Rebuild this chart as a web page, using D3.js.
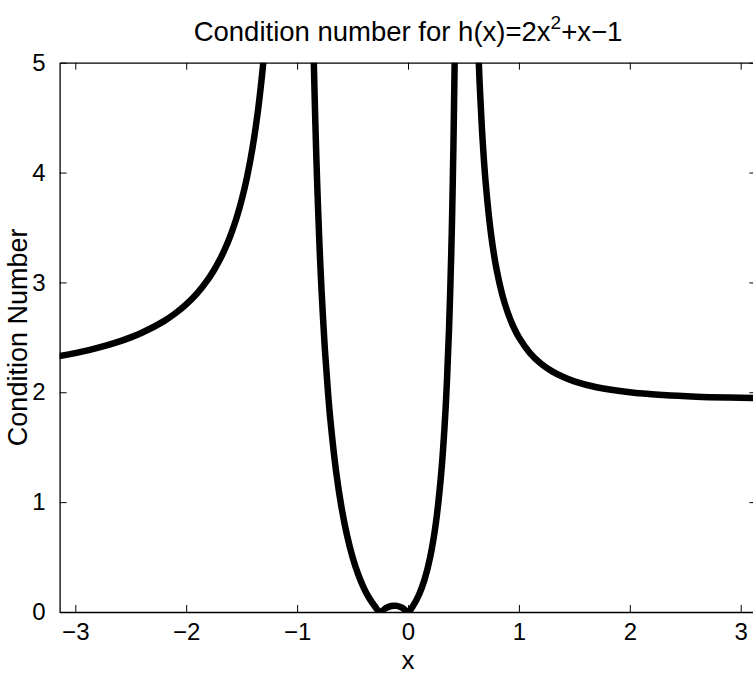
<!DOCTYPE html>
<html>
<head>
<meta charset="utf-8">
<script src="https://cdn.jsdelivr.net/npm/d3@7/dist/d3.min.js"></script>
<style>
  html, body { margin: 0; padding: 0; background: #fff; }
  svg { display: block; }
  text { font-family: "Liberation Sans", Arial, Helvetica, sans-serif; fill: #000; }
</style>
</head>
<body>
<svg id="chart" width="753" height="675"></svg>
<script>
// Condition number kappa(x) = |x h'(x) / h(x)| for h(x) = 2x^2 + x - 1,
// sampled on the three visible branches (poles at x = -1 and x = 0.5).
const leftX  = [-3.1416, -3.0, -2.9, -2.8, -2.6, -2.5, -2.4, -2.2, -2.1, -2.0, -1.9, -1.8, -1.75, -1.7, -1.65, -1.6, -1.55, -1.5, -1.45, -1.4, -1.35, -1.32, -1.305, -1.28];
const leftY  = [2.330, 2.357, 2.379, 2.404, 2.464, 2.500, 2.542, 2.648, 2.717, 2.800, 2.903, 3.033, 3.111, 3.201, 3.306, 3.429, 3.574, 3.750, 3.966, 4.237, 4.587, 4.850, 5.002, 5.291];

const midX   = [-0.87, -0.86, -0.849, -0.835, -0.82, -0.8, -0.78, -0.75, -0.72, -0.7, -0.65, -0.6, -0.55, -0.5, -0.45, -0.4, -0.35, -0.3, -0.25, -0.2, -0.15, -0.125, -0.1, -0.05, 0.0, 0.05, 0.1, 0.15, 0.2, 0.25, 0.3, 0.33, 0.35, 0.37, 0.39, 0.40, 0.41, 0.42, 0.43];
const midY   = [6.057, 5.511, 4.993, 4.435, 3.934, 3.385, 2.936, 2.400, 1.981, 1.750, 1.292, 0.955, 0.698, 0.500, 0.344, 0.222, 0.127, 0.0536, 0.0, 0.0357, 0.0543, 0.0571, 0.0556, 0.0383, 0.0, 0.0635, 0.159, 0.298, 0.500, 0.800, 1.269, 1.693, 2.074, 2.576, 3.265, 3.714, 4.265, 4.954, 5.842];

const rightX = [0.62, 0.638, 0.65, 0.67, 0.7, 0.75, 0.8, 0.85, 0.9, 0.95, 1.0, 1.1, 1.2, 1.3, 1.4, 1.5, 1.7, 2.0, 2.3, 2.6, 2.9, 3.1416];
const rightY = [5.549, 5.013, 4.727, 4.342, 3.912, 3.429, 3.111, 2.888, 2.724, 2.598, 2.500, 2.357, 2.260, 2.190, 2.139, 2.100, 2.046, 2.000, 1.975, 1.960, 1.952, 1.948];

const xTicks = [-3, -2, -1, 0, 1, 2, 3];
const yTicks = [0, 1, 2, 3, 4, 5];
const xDomain = [-Math.PI, Math.PI];
const yDomain = [0, 5];

const titleMain = "Condition number for h(x)=2x";
const titleSup = "2";
const titleTail = "+x\u22121";
const xLabel = "x";
const yLabel = "Condition Number";

const svg = d3.select("#chart");
const plot = { left: 59.6, right: 756.4, top: 62.7, bottom: 612 };

const x = d3.scaleLinear().domain(xDomain).range([plot.left, plot.right]);
const y = d3.scaleLinear().domain(yDomain).range([plot.bottom, plot.top]);

svg.append("defs").append("clipPath").attr("id", "plot-clip")
  .append("rect")
  .attr("x", plot.left).attr("y", plot.top)
  .attr("width", plot.right - plot.left).attr("height", plot.bottom - plot.top);

// Curve branches
const line = d3.line()
  .x(d => x(d[0]))
  .y(d => y(d[1]))
  .curve(d3.curveCatmullRom.alpha(0.5));

const branches = [
  d3.zip(leftX, leftY),
  d3.zip(midX, midY),
  d3.zip(rightX, rightY)
];

svg.append("g").attr("clip-path", "url(#plot-clip)")
  .selectAll("path")
  .data(branches)
  .join("path")
  .attr("d", line)
  .attr("fill", "none")
  .attr("stroke", "#000")
  .attr("stroke-width", 6.5)
  .attr("stroke-linejoin", "round")
  .attr("stroke-linecap", "round");

// Box axes with inward ticks on all sides
const tickLen = 7;
const tickFont = 24;

const bottomAxis = d3.axisBottom(x).tickValues(xTicks).tickSizeInner(-tickLen).tickSizeOuter(0)
  .tickPadding(11).tickFormat(d => d3.format("d")(d).replace("-", "\u2212"));
const topAxis = d3.axisTop(x).tickValues(xTicks).tickSizeInner(-tickLen).tickSizeOuter(0).tickFormat("");
const leftAxis = d3.axisLeft(y).tickValues(yTicks).tickSizeInner(-tickLen).tickSizeOuter(0)
  .tickPadding(14).tickFormat(d3.format("d"));
const rightAxis = d3.axisRight(y).tickValues(yTicks).tickSizeInner(-tickLen).tickSizeOuter(0).tickFormat("");

function styleAxis(g) {
  g.select(".domain").attr("stroke", "#000").attr("stroke-width", 1.3);
  g.selectAll(".tick line").attr("stroke", "#000").attr("stroke-width", 1);
  g.selectAll(".tick text").attr("font-size", tickFont).attr("fill", "#000")
    .attr("font-family", "'Liberation Sans', Arial, Helvetica, sans-serif");
}

svg.append("g").attr("transform", `translate(0,${plot.bottom})`).call(bottomAxis).call(styleAxis);
svg.append("g").attr("transform", `translate(0,${plot.top})`).call(topAxis).call(styleAxis);
svg.append("g").attr("transform", `translate(${plot.left},0)`).call(leftAxis).call(styleAxis);
svg.append("g").attr("transform", `translate(${plot.right},0)`).call(rightAxis).call(styleAxis);

// Title with superscript
const title = svg.append("text")
  .attr("x", (plot.left + plot.right) / 2)
  .attr("y", 41)
  .attr("text-anchor", "middle")
  .attr("font-size", 27.5);
title.append("tspan").text(titleMain);
title.append("tspan").attr("font-size", 19).attr("dy", -12).text(titleSup);
title.append("tspan").attr("dy", 12).text(titleTail);

// Axis labels
svg.append("text")
  .attr("x", (plot.left + plot.right) / 2)
  .attr("y", 669)
  .attr("text-anchor", "middle")
  .attr("font-size", 26)
  .text(xLabel);

svg.append("text")
  .attr("transform", `translate(27,${(plot.top + plot.bottom) / 2}) rotate(-90)`)
  .attr("text-anchor", "middle")
  .attr("font-size", 27)
  .text(yLabel);
</script>
</body>
</html>
